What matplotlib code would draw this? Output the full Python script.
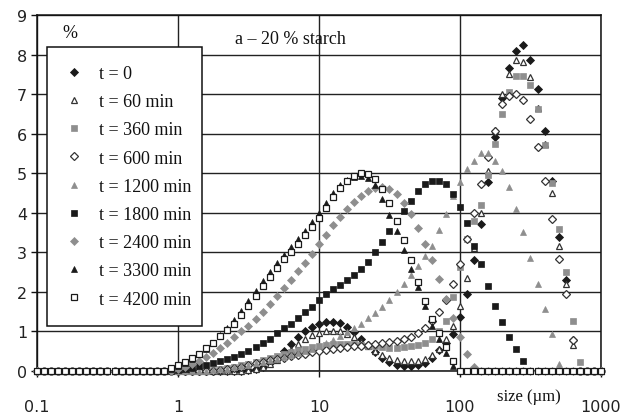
import matplotlib
matplotlib.use("Agg")
import matplotlib.pyplot as plt

# particle size bins (µm)
size_um = [0.1, 0.112, 0.126, 0.141, 0.158, 0.178, 0.2, 0.224, 0.251, 0.282,
           0.316, 0.355, 0.398, 0.447, 0.501, 0.562, 0.631, 0.708, 0.794, 0.891,
           1, 1.12, 1.26, 1.41, 1.58, 1.78, 2, 2.24, 2.51, 2.82,
           3.16, 3.55, 3.98, 4.47, 5.01, 5.62, 6.31, 7.08, 7.94, 8.91,
           10, 11.2, 12.6, 14.1, 15.8, 17.8, 20, 22.4, 25.1, 28.2,
           31.6, 35.5, 39.8, 44.7, 50.1, 56.2, 63.1, 70.8, 79.4, 89.1,
           100, 112, 126, 141, 158, 178, 200, 224, 251, 282,
           316, 355, 398, 447, 501, 562, 631, 708, 794, 891, 1000]

t0 = [0, 0, 0, 0, 0, 0, 0, 0, 0, 0,
      0, 0, 0, 0, 0, 0, 0, 0, 0, 0,
      0, 0, 0, 0, 0, 0, 0, 0, 0, 0,
      0.02, 0.05, 0.1, 0.2, 0.33, 0.5, 0.68, 0.85, 1.0, 1.12,
      1.2, 1.24, 1.25, 1.22, 1.12, 0.98, 0.82, 0.65, 0.48, 0.33,
      0.22, 0.16, 0.13, 0.12, 0.14, 0.2, 0.33, 0.52, 0.72, 0.94,
      1.37, 1.95, 2.8, 3.72, 4.78, 5.92, 6.9, 7.65, 8.1, 8.25,
      7.85, 7.12, 6.06, 4.8, 3.4, 2.3, 0.78, 0, 0, 0, 0]

t60 = [0, 0, 0, 0, 0, 0, 0, 0, 0, 0,
       0, 0, 0, 0, 0, 0, 0, 0, 0, 0,
       0, 0, 0, 0, 0, 0, 0, 0, 0, 0,
       0.02, 0.05, 0.1, 0.18, 0.28, 0.4, 0.53, 0.67, 0.8, 0.9,
       0.97, 1.0, 1.02, 1.0, 0.94, 0.85, 0.74, 0.62, 0.5, 0.4,
       0.32, 0.27, 0.25, 0.25, 0.25, 0.3, 0.4, 0.55, 0.8, 1.14,
       1.65, 2.35, 3.1, 4.0, 5.06, 6.1, 7.0, 7.5, 7.85, 7.82,
       7.44, 6.65, 5.75, 4.5, 3.15, 2.2, 0.65, 0, 0, 0, 0]

t360 = [0, 0, 0, 0, 0, 0, 0, 0, 0, 0,
        0, 0, 0, 0, 0, 0, 0, 0, 0, 0,
        0, 0, 0, 0, 0, 0.02, 0.04, 0.07, 0.1, 0.14,
        0.18, 0.22, 0.27, 0.32, 0.37, 0.42, 0.47, 0.52, 0.56, 0.6,
        0.63, 0.66, 0.68, 0.69, 0.69, 0.68, 0.66, 0.64, 0.62, 0.6,
        0.59, 0.59, 0.6, 0.62, 0.66, 0.72, 0.82, 1.02, 1.26, 1.87,
        2.63, 3.34, 3.8, 4.2, 4.95, 5.74, 6.5, 7.06, 7.45, 7.45,
        7.22, 6.63, 5.72, 4.75, 3.6, 2.5, 1.27, 0.23, 0, 0, 0]

t600 = [0, 0, 0, 0, 0, 0, 0, 0, 0, 0,
        0, 0, 0, 0, 0, 0, 0, 0, 0, 0,
        0, 0, 0, 0, 0, 0, 0.03, 0.05, 0.08, 0.11,
        0.15, 0.19, 0.23, 0.27, 0.3, 0.34, 0.37, 0.41, 0.44, 0.47,
        0.5, 0.52, 0.55, 0.57, 0.6, 0.62, 0.64, 0.66, 0.68, 0.7,
        0.73, 0.76, 0.8, 0.86, 0.95, 1.08, 1.27, 1.5, 1.8, 2.2,
        2.7, 3.34, 4.0, 4.73, 5.4, 6.08, 6.75, 6.94, 7.0, 6.85,
        6.38, 5.67, 4.8, 3.85, 2.84, 1.95, 0.78, 0, 0, 0, 0]

t1200 = [0, 0, 0, 0, 0, 0, 0, 0, 0, 0,
         0, 0, 0, 0, 0, 0, 0, 0, 0, 0,
         0, 0, 0, 0, 0, 0.02, 0.04, 0.06, 0.09, 0.12,
         0.15, 0.19, 0.23, 0.27, 0.31, 0.35, 0.4, 0.45, 0.5, 0.56,
         0.62, 0.7, 0.78, 0.88, 0.98, 1.08, 1.2, 1.33, 1.47, 1.62,
         1.8, 2.0, 2.2, 2.42, 2.65, 2.9, 3.17, 3.57, 3.97, 4.43,
         4.78, 5.1, 5.3, 5.5, 5.5, 5.3, 5.05, 4.65, 4.1, 3.52,
         2.86, 2.2, 1.57, 0.94, 0.18, 0, 0, 0, 0, 0, 0]

t1800 = [0, 0, 0, 0, 0, 0, 0, 0, 0, 0,
         0, 0, 0, 0, 0, 0, 0, 0, 0, 0,
         0.03, 0.05, 0.08, 0.12, 0.16, 0.2, 0.25, 0.3, 0.36, 0.43,
         0.51, 0.6, 0.7, 0.82, 0.95, 1.08, 1.2, 1.33, 1.48, 1.63,
         1.8, 1.95, 2.07, 2.18, 2.3, 2.42, 2.58, 2.76, 3.0, 3.27,
         3.55, 3.8, 4.05, 4.3, 4.56, 4.73, 4.8, 4.8, 4.73, 4.48,
         4.15, 3.75, 3.17, 2.7, 2.16, 1.65, 1.24, 0.86, 0.56, 0.26,
         0, 0, 0, 0, 0, 0, 0, 0, 0, 0, 0]

t2400 = [0, 0, 0, 0, 0, 0, 0, 0, 0, 0,
         0, 0, 0, 0, 0, 0, 0, 0, 0, 0,
         0.05, 0.1, 0.17, 0.25, 0.35, 0.46, 0.58, 0.72, 0.86, 1.0,
         1.15, 1.32, 1.5, 1.7, 1.9, 2.1, 2.3, 2.52, 2.74, 2.96,
         3.2, 3.45, 3.68, 3.9, 4.1, 4.28, 4.43, 4.55, 4.62, 4.65,
         4.6, 4.48, 4.25, 3.97, 3.62, 3.2, 2.8, 2.33, 1.83, 1.33,
         0.85, 0.43, 0.1, 0, 0, 0, 0, 0, 0, 0,
         0, 0, 0, 0, 0, 0, 0, 0, 0, 0, 0]

t3300 = [0, 0, 0, 0, 0, 0, 0, 0, 0, 0,
         0, 0, 0, 0, 0, 0, 0, 0, 0, 0.05,
         0.12, 0.2, 0.3, 0.42, 0.56, 0.72, 0.9, 1.08, 1.28, 1.52,
         1.77, 2.02, 2.27, 2.5, 2.72, 2.93, 3.13, 3.33, 3.55, 3.77,
         4.0, 4.25, 4.5, 4.7, 4.82, 4.9, 4.92, 4.88, 4.7, 4.35,
         3.95, 3.55, 3.05, 2.58, 2.12, 1.65, 1.15, 0.8, 0.45, 0.12,
         0, 0, 0, 0, 0, 0, 0, 0, 0, 0,
         0, 0, 0, 0, 0, 0, 0, 0, 0, 0, 0]

t4200 = [0, 0, 0, 0, 0, 0, 0, 0, 0, 0,
         0, 0, 0, 0, 0, 0, 0, 0, 0, 0.08,
         0.15, 0.24, 0.33, 0.44, 0.57, 0.72, 0.88, 1.03, 1.2, 1.42,
         1.65, 1.9, 2.15, 2.38, 2.6, 2.82, 3.02, 3.22, 3.43, 3.65,
         3.88, 4.12, 4.4, 4.63, 4.8, 4.93, 5.0, 4.98, 4.85, 4.6,
         4.25, 3.8, 3.3, 2.8, 2.25, 1.77, 1.32, 0.95, 0.6, 0.25,
         0, 0, 0, 0, 0, 0, 0, 0, 0, 0,
         0, 0, 0, 0, 0, 0, 0, 0, 0, 0, 0]

labels = ["t = 0", "t = 60 min", "t = 360 min", "t = 600 min", "t = 1200 min",
          "t = 1800 min", "t = 2400 min", "t = 3300 min", "t = 4200 min"]
series = [t0, t60, t360, t600, t1200, t1800, t2400, t3300, t4200]

GRAY = "#8e8e8e"
DARK = "#1a1a1a"
styles = [
    dict(marker="D", ms=4.0, mfc=DARK, mec=DARK, mew=0.6),
    dict(marker="^", ms=5.0, mfc="white", mec="#333333", mew=0.9),
    dict(marker="s", ms=4.3, mfc=GRAY, mec=GRAY, mew=0.5),
    dict(marker="D", ms=4.0, mfc="white", mec="#333333", mew=0.9),
    dict(marker="^", ms=5.0, mfc=GRAY, mec=GRAY, mew=0.5),
    dict(marker="s", ms=4.3, mfc=DARK, mec=DARK, mew=0.5),
    dict(marker="D", ms=4.0, mfc=GRAY, mec=GRAY, mew=0.5),
    dict(marker="^", ms=5.0, mfc=DARK, mec=DARK, mew=0.5),
    dict(marker="s", ms=4.5, mfc="white", mec=DARK, mew=0.9),
]

W, H = 633, 414
fig = plt.figure(figsize=(W / 100, H / 100), dpi=100)
ax = fig.add_axes([37 / W, 42 / H, 564 / W, 356 / H])
ax.set_xscale("log")

handles = []
for ys, lab, st in zip(series, labels, styles):
    h, = ax.plot(size_um, ys, linestyle="none", label=lab, clip_on=False,
                 zorder=3, **st)
    handles.append(h)

ax.set_xlim(0.1, 1000)
ax.set_ylim(0, 9)
ax.set_xticks([0.1, 1, 10, 100, 1000])
ax.set_xticklabels(["0.1", "1", "10", "100", "1000"])
ax.xaxis.set_minor_locator(matplotlib.ticker.NullLocator())
ax.set_yticks(range(0, 10))
ax.set_yticklabels([str(v) for v in range(0, 10)])
ax.grid(True, which="major", color="#222222", lw=1.0)
ax.set_axisbelow(True)
for sp in ax.spines.values():
    sp.set_color("#111111")
    sp.set_linewidth(1.1)

ax.tick_params(axis="both", direction="out", length=4, width=1,
               colors="#111111", labelsize=11.5, labelcolor="#222222")
ax.tick_params(axis="x", pad=16)
ax.tick_params(axis="y", pad=3)
for lbl in ax.get_xticklabels() + ax.get_yticklabels():
    lbl.set_family("DejaVu Sans")

leg = ax.legend(handles=handles, loc="upper left",
                bbox_to_anchor=(47 / W, (H - 328) / H, 155 / W, 280 / H),
                bbox_transform=fig.transFigure, mode="expand",
                frameon=True, fancybox=False, framealpha=1, edgecolor="#111111",
                borderaxespad=0, borderpad=1.0, handlelength=1.0,
                handletextpad=0.9, labelspacing=0.62, markerscale=0.9,
                prop=dict(family="Liberation Serif", size=13))
leg.get_frame().set_linewidth(1.1)
for t in leg.get_texts():
    t.set_color("#111111")

serif = dict(family="Liberation Serif", color="#111111")
fig.text(70 / W, 1 - 33 / H, "%", ha="center", va="center", size=13, **serif)
fig.text(290 / W, 1 - 40 / H, "a \u2013 20 % starch", ha="center", va="center",
         size=13, **serif)
fig.text(529 / W, 1 - 397 / H, "size (\u00b5m)", ha="center", va="center",
         size=12, **serif)

fig.savefig("out.png", dpi=100)
